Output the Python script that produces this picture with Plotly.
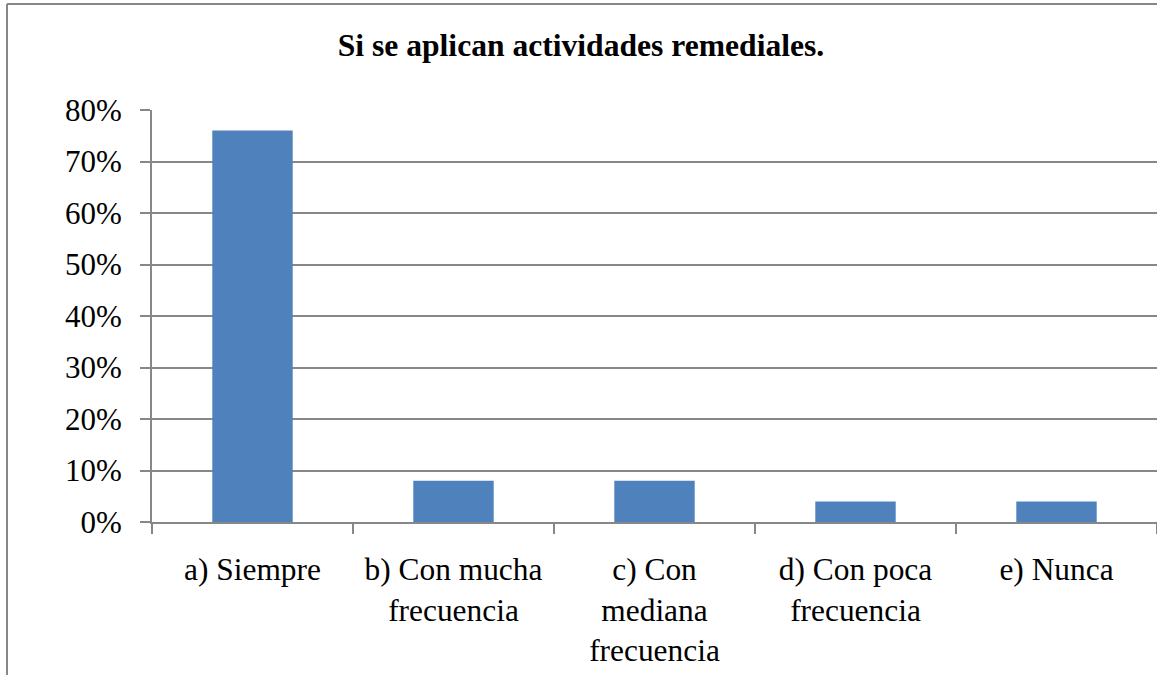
import plotly.graph_objects as go

categories = ["a) Siempre", "b) Con mucha<br>frecuencia", "c) Con<br>mediana<br>frecuencia",
              "d) Con poca<br>frecuencia", "e) Nunca"]
values = [0.76, 0.08, 0.08, 0.04, 0.04]
y_ticks = [0, 0.1, 0.2, 0.3, 0.4, 0.5, 0.6, 0.7, 0.8]
y_tick_labels = ["0%", "10%", "20%", "30%", "40%", "50%", "60%", "70%", "80%"]
title_text = "Si se aplican actividades remediales."

W, H = 1157, 675
L, R, T, B = 152, 0, 110, 153
pw, ph = W - L - R, H - T - B

def px_x(p):
    return (p - L) / pw

def px_y(p):
    return (H - B - p) / ph

font_family = "Liberation Serif"
grid_col = "#878787"

fig = go.Figure(go.Bar(x=categories, y=values, marker=dict(color="#4F81BD", line=dict(width=0)),
                       width=0.4))

fig.update_layout(
    width=W, height=H,
    margin=dict(l=L, r=R, t=T, b=B),
    paper_bgcolor="white", plot_bgcolor="white",
    showlegend=False,
    font=dict(family=font_family, size=31, color="black"),
    title=dict(text="<b>" + title_text + "</b>", x=px_x(581), xref="paper", xanchor="center",
               y=1 - 45 / H, yanchor="middle",
               font=dict(family=font_family, size=31.6, color="black")),
    bargap=0.6,
)
fig.update_xaxes(
    type="category", showgrid=False, showline=True, linecolor=grid_col, linewidth=2,
    ticks="outside", tickson="boundaries", ticklen=10, tickwidth=2, tickcolor=grid_col,
    tickfont=dict(family=font_family, size=31.4, color="black"), ticklabelstandoff=18,
    range=[-0.5, 4.5],
)
fig.update_yaxes(
    range=[0, 0.8], tickvals=y_ticks, ticktext=y_tick_labels,
    showgrid=True, gridcolor=grid_col, gridwidth=2,
    showline=True, linecolor=grid_col, linewidth=2,
    ticks="outside", ticklen=10, tickwidth=2, tickcolor=grid_col,
    tickfont=dict(family=font_family, size=31, color="black"), ticklabelstandoff=12,
    zeroline=False,
)

# frame of the embedded chart (partially cropped)
fig.add_shape(type="line", xref="paper", yref="paper", x0=px_x(7), x1=px_x(W + 5),
              y0=px_y(4), y1=px_y(4), line=dict(color=grid_col, width=2))
fig.add_shape(type="line", xref="paper", yref="paper", x0=px_x(7), x1=px_x(7),
              y0=px_y(4), y1=px_y(H + 5), line=dict(color=grid_col, width=2))

fig.write_html("out.html", config={"displayModeBar": False},
               post_script="document.body.style.margin='0';document.body.style.overflow='hidden';")
